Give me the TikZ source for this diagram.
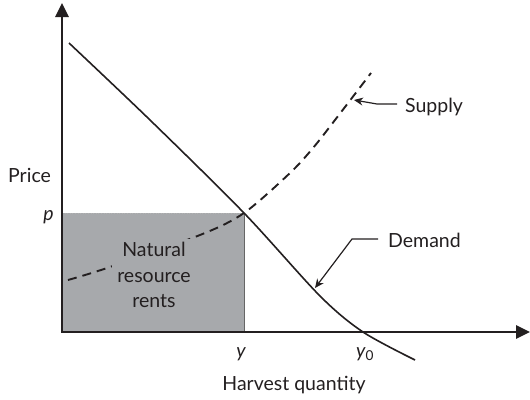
\documentclass[tikz,border=0pt]{standalone}
\usepackage{fontspec}
\setmainfont{Lato}
\usetikzlibrary{arrows.meta}
\definecolor{ink}{HTML}{231F20}
\definecolor{rentgray}{HTML}{A7A9AC}
\begin{document}
\begin{tikzpicture}[x=1pt,y=-1pt,
  axis/.style={line width=2.6pt, draw=ink, {Triangle[length=14pt,width=13pt]}-{Triangle[length=14pt,width=13pt]}},
  curve/.style={line width=1.6pt, draw=ink},
  supplycurve/.style={line width=1.9pt, draw=ink, dash pattern=on 9pt off 6pt},
  lbl/.style={font=\fontsize{19.5}{23}\selectfont, text=ink, inner sep=0pt},
  pointer/.style={line width=1.2pt, draw=ink, -{Stealth[length=9pt,width=8pt]}},
]
\useasboundingbox (0,0) rectangle (530,399);
\coordinate (O) at (62,332);
\coordinate (ytip) at (62,3);
\coordinate (xtip) at (530,332);
\coordinate (E) at (244,213);
\coordinate (P) at (62,213);
\coordinate (Y) at (244,332);
% rent rectangle
\fill[rentgray] (O) rectangle (E);
\draw[gray!60, line width=0.6pt, dotted] (P) -- (E);
\draw[black!60, line width=0.7pt] (E) -- (Y);
% axes
\draw[axis] (ytip) -- (O) -- (xtip);
% demand
\draw[curve] plot[smooth, tension=0.5] coordinates {(69,43) (150,120) (244,213) (320,296) (363,332) (415,360)};
% supply
\draw[supplycurve] plot[smooth, tension=0.5] coordinates {(68,280) (107,268) (200,235) (244,213) (290,173) (313,148) (335,120) (371,73)};
% labels
\node[lbl, anchor=base west] (price) at (8,182) {Price};
\node[lbl, anchor=base east] (plbl) at (54,220) {\itshape p};
\node[lbl, anchor=base] (ylbl) at (241,357) {\itshape y};
\node[lbl, anchor=base west] (y0lbl) at (356,357) {\itshape y\textsubscript{\upshape 0}};
\node[lbl, anchor=base] (xlbl) at (294,390) {Harvest quantity};
\node[lbl, align=center, anchor=center, fill=rentgray, inner xsep=5pt, inner ysep=3pt] (rent) at (154,275) {Natural\\[2.5pt]resource\\[2.5pt]rents};
\node[lbl, anchor=base west] (slbl) at (405,112) {Supply};
\node[lbl, anchor=base west] (dlbl) at (388,247) {Demand};
% pointers
\coordinate (stip) at (354,100);
\coordinate (sbend) at (377,104);
\coordinate (dtip) at (315,288);
\coordinate (dbend) at (352,239);
\draw[pointer] (397,104) -- (sbend) -- (stip);
\draw[pointer] (378,239) -- (dbend) -- (dtip);
\end{tikzpicture}
\end{document}
